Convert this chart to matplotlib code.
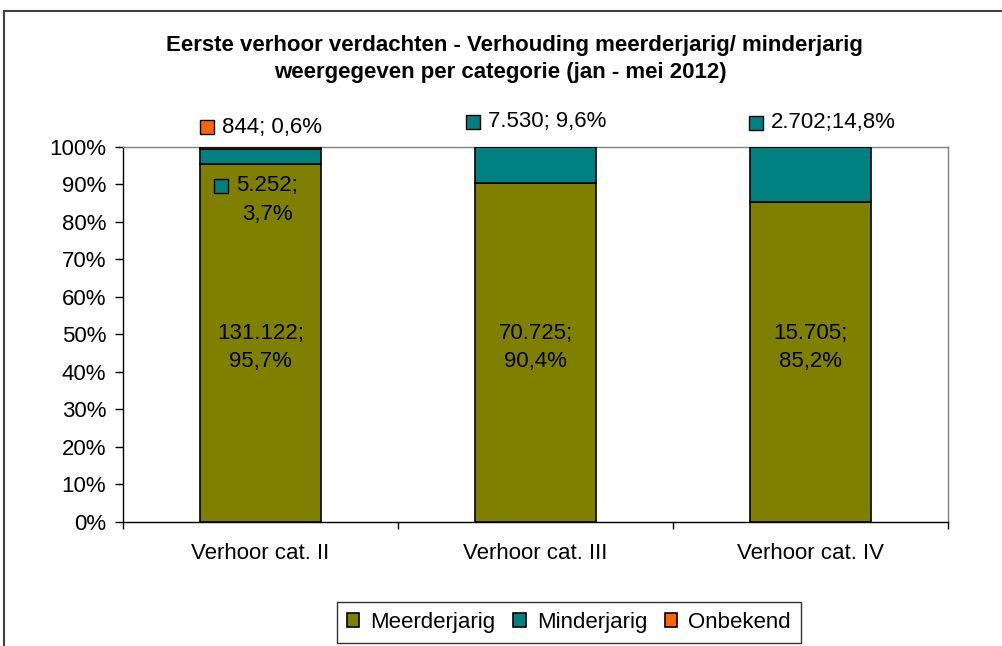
import matplotlib
matplotlib.use("Agg")
import numpy as np
import matplotlib.pyplot as plt
from matplotlib.patches import Rectangle

plt.rcParams['font.family'] = ['Liberation Sans', 'DejaVu Sans']

# data
categories = ['Verhoor cat. II', 'Verhoor cat. III', 'Verhoor cat. IV']
series_names = ['Meerderjarig', 'Minderjarig', 'Onbekend']
meerderjarig = [131122, 70725, 15705]
minderjarig = [5252, 7530, 2702]
onbekend = [844, 0, 0]
# labels as printed on the chart
label_meer = ['131.122;\n95,7%', '70.725;\n90,4%', '15.705;\n85,2%']
label_minder = ['5.252;\n3,7%', '7.530; 9,6%', '2.702;14,8%']
label_onb = ['844; 0,6%', '', '']
colors = ['#808000', '#008080', '#FF6600']

counts = np.array([meerderjarig, minderjarig, onbekend], dtype=float)
frac = counts / counts.sum(axis=0)

fig = plt.figure(figsize=(10.03, 6.46), dpi=100)
ax = fig.add_axes([0.1226, 0.1920, 0.8226, 0.5805])

x = np.arange(len(categories))
bottom = np.zeros(len(categories))
for i, name in enumerate(series_names):
    ax.bar(x, frac[i], 0.437, bottom=bottom, color=colors[i],
           edgecolor='black', linewidth=1.2, label=name, zorder=3)
    bottom += frac[i]

fs = 16
# main labels
for j in range(len(categories)):
    ax.text(x[j], 0.465, label_meer[j], ha='center', va='center',
            fontsize=fs, linespacing=1.4, zorder=5)

def keyed_label(xx, yy, txt, color):
    ax.plot([xx], [yy], marker='s', markersize=10, markerfacecolor=color,
            markeredgecolor='black', markeredgewidth=1, clip_on=False, zorder=6)
    ax.text(xx + 0.055, yy, txt, ha='left', va='center', fontsize=fs,
            zorder=6, clip_on=False)

# cat II: minderjarig inside bar, onbekend above
keyed_label(x[0] - 0.142, 0.896, label_minder[0].split('\n')[0], colors[1])
ax.text(x[0] + 0.025, 0.819, label_minder[0].split('\n')[1], ha='center',
        va='center', fontsize=fs, zorder=6)
keyed_label(x[0] - 0.196, 1.053, label_onb[0], colors[2])
# cat III and IV: minderjarig above
keyed_label(x[1] - 0.229, 1.067, label_minder[1], colors[1])
keyed_label(x[2] - 0.2, 1.064, label_minder[2], colors[1])

ax.set_xlim(-0.5, 2.5)
ax.set_ylim(0, 1)
yt = np.arange(0, 1.01, 0.1)
ax.set_yticks(yt)
ax.set_yticklabels([f'{int(round(v * 100))}%' for v in yt])
ax.set_xticks(x)
ax.set_xticklabels(categories)
ax.set_xticks([-0.5, 0.5, 1.5, 2.5], minor=True)
ax.tick_params(axis='x', which='major', length=0, pad=15, labelsize=fs)
ax.tick_params(axis='x', which='minor', length=5, direction='out', width=1)
ax.tick_params(axis='y', length=6, direction='out', width=1, labelsize=fs, pad=6)
for s in ['top', 'right']:
    ax.spines[s].set_color('#808080')
    ax.spines[s].set_linewidth(1)
for s in ['left', 'bottom']:
    ax.spines[s].set_color('black')
    ax.spines[s].set_linewidth(1)

fig.text(0.513, 0.930, 'Eerste verhoor verdachten - Verhouding meerderjarig/ minderjarig',
         ha='center', va='center', fontsize=16, fontweight='bold')
fig.text(0.499, 0.887, 'weergegeven per categorie (jan - mei 2012)',
         ha='center', va='center', fontsize=16, fontweight='bold')

leg = fig.legend(loc='center', bbox_to_anchor=(0.5673, 0.0364), ncol=3, fontsize=fs,
                 frameon=True, fancybox=False, edgecolor='black', handlelength=0.55,
                 handleheight=0.55, handletextpad=0.5, columnspacing=0.8,
                 borderpad=0.45, borderaxespad=0)
leg.get_frame().set_linewidth(1)

# outer chart border
fig.patches.append(Rectangle((4 / 1003, -0.1), 1.2, (646 - 11) / 646 + 0.1,
                             transform=fig.transFigure, fill=False,
                             edgecolor='#404040', linewidth=1.5))

fig.savefig('out.png', dpi=100)
